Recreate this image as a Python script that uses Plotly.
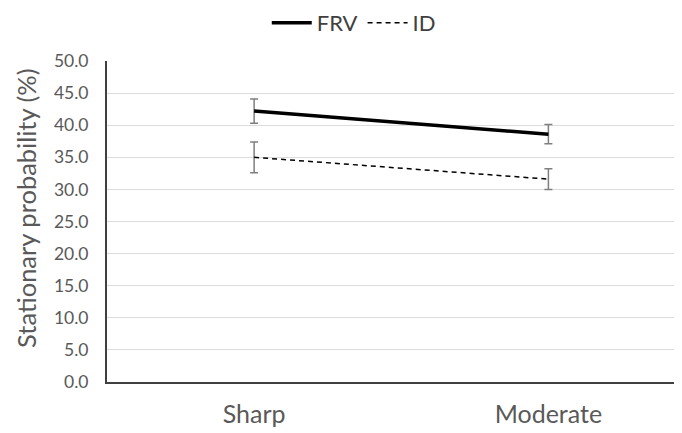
import plotly.graph_objects as go

categories = ["Sharp", "Moderate"]
frv_values = [42.2, 38.6]
frv_err = [1.9, 1.5]
id_values = [35.0, 31.6]
id_err = [2.4, 1.6]
y_ticks = [0, 5, 10, 15, 20, 25, 30, 35, 40, 45, 50]
y_title = "Stationary probability (%)"

FONT = "Lato, 'Open Sans', sans-serif"
fig = go.Figure()
fig.add_trace(go.Scatter(
    x=categories, y=frv_values, name="FRV", mode="lines",
    line=dict(color="black", width=3.5),
    error_y=dict(type="data", array=frv_err, color="#7f7f7f", thickness=1.5, width=4),
))
fig.add_trace(go.Scatter(
    x=categories, y=id_values, name="ID", mode="lines",
    line=dict(color="black", width=1.5, dash="5px,4px"),
    error_y=dict(type="data", array=id_err, color="#7f7f7f", thickness=1.5, width=4),
))
fig.add_annotation(text=y_title, xref="paper", yref="paper", x=-0.141, y=0.542,
                   xanchor="center", yanchor="middle", textangle=-90, showarrow=False,
                   borderpad=0, font=dict(size=25.5, color="#595959"))
fig.update_layout(
    width=674, height=425,
    margin=dict(l=99, r=0, t=53, b=51, autoexpand=False),
    plot_bgcolor="white", paper_bgcolor="white",
    font=dict(family=FONT, color="#595959"),
    legend=dict(orientation="h", xref="container", x=0.513, xanchor="center",
                yref="container", y=0.965, yanchor="middle",
                font=dict(size=22, color="#404040"), itemwidth=40, tracegroupgap=0),
    xaxis=dict(type="category", range=[-0.5, 1.454], showgrid=False,
               showline=True, linecolor="#404040", linewidth=2,
               tickfont=dict(size=25, color="#595959"), ticks="", ticklabelstandoff=9),
    yaxis=dict(range=[0, 50], tickvals=y_ticks, tickformat=".1f",
               showgrid=True, gridcolor="#dcdcdc", gridwidth=1.2,
               showline=True, linecolor="#404040", linewidth=2, zeroline=False,
               tickfont=dict(size=17.5, color="#595959"), ticks="", ticklabelstandoff=13),
)
fig.write_html("out.html")
